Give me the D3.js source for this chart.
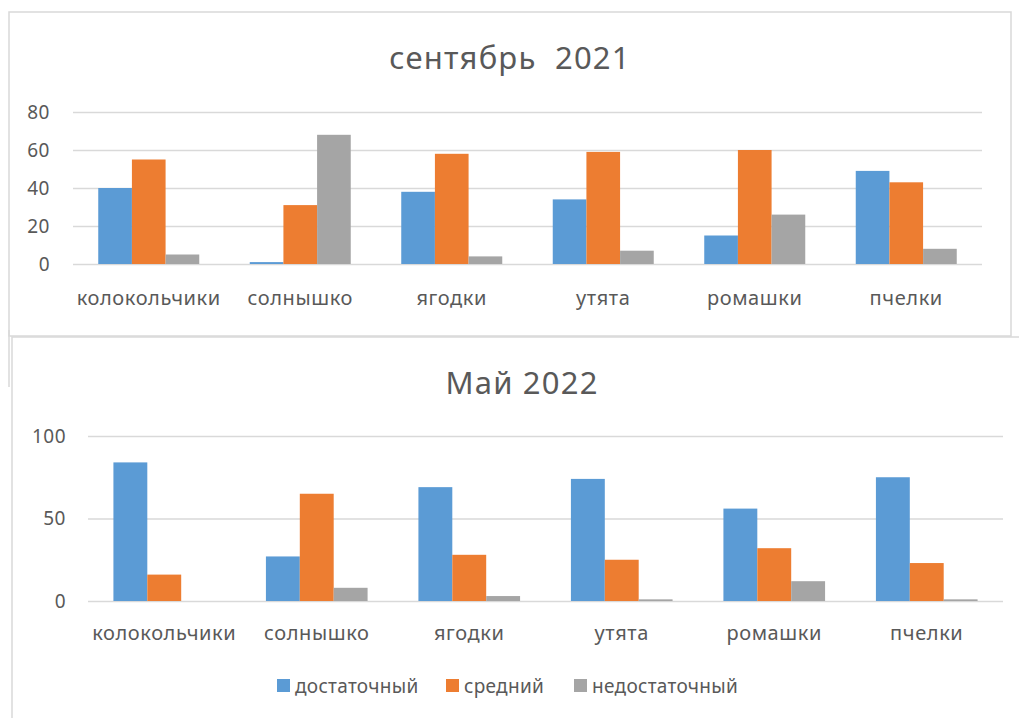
<!DOCTYPE html>
<html>
<head>
<meta charset="utf-8">
<script src="https://cdn.jsdelivr.net/npm/d3@7"></script>
<style>
  body { margin: 0; background: #fff; }
  text { font-family: "Noto Sans", sans-serif; fill: #595959; }
</style>
</head>
<body>
<script>
// groups and series
var groups = ["колокольчики", "солнышко", "ягодки", "утята", "ромашки", "пчелки"];
var seriesNames = ["достаточный", "средний", "недостаточный"];
var seriesColors = ["#5b9bd5", "#ed7d31", "#a5a5a5"];

// сентябрь 2021
var sepGood = [40, 1, 38, 34, 15, 49];
var sepMid = [55, 31, 58, 59, 60, 43];
var sepLow = [5, 68, 4, 7, 26, 8];
var sepTicks = [0, 20, 40, 60, 80];

// Май 2022
var mayGood = [84, 27, 69, 74, 56, 75];
var mayMid = [16, 65, 28, 25, 32, 23];
var mayLow = [0, 8, 3, 1, 12, 1];
var mayTicks = [0, 50, 100];

var w = 1019, h = 718;
var svg = d3.select("body").append("svg")
    .attr("width", w)
    .attr("height", h);

//draws one grouped bar chart
function drawChart(opt){
    var g = svg.append("g").attr("class", "chart");

    //frame
    g.append("rect")
        .attr("x", opt.box[0]).attr("y", opt.box[1])
        .attr("width", opt.box[2]).attr("height", opt.box[3])
        .style("fill", "#fff")
        .style("stroke", "#d9d9d9")
        .style("stroke-width", 1.5);

    g.append("text")
        .attr("x", opt.titleX).attr("y", opt.titleY)
        .attr("text-anchor", "middle")
        .style("font-size", "31px")
        .style("letter-spacing", "1.2px")
        .style("white-space", "pre") //keep the double space
        .text(opt.title);

    var x0 = d3.scaleBand()
        .domain(groups)
        .range([opt.left, opt.right])
        .paddingInner(1/3)
        .paddingOuter(1/6);
    var x1 = d3.scaleBand()
        .domain(d3.range(seriesNames.length))
        .range([0, x0.bandwidth()]);
    var y = d3.scaleLinear()
        .domain([0, d3.max(opt.ticks)])
        .range([opt.bottom, opt.top]);

    //gridlines
    var yAxis = d3.axisLeft(y)
        .tickValues(opt.ticks)
        .tickSize(-(opt.right - opt.left))
        .tickPadding(opt.left - opt.tickX);
    var ax = g.append("g")
        .attr("class", "axis")
        .attr("transform", "translate(" + opt.left + ",0)")
        .call(yAxis);
    ax.select(".domain").remove();
    ax.selectAll("line").style("stroke", "#d9d9d9").style("stroke-width", 1.5);
    ax.selectAll("text")
        .style("font-size", "19px")
        .style("letter-spacing", "0.5px")
        .style("font-family", "Noto Sans, sans-serif")
        .style("fill", "#595959");

    var rows = groups.map(function(name, i){
        return opt.values.map(function(s){ return s[i]; });
    });

    var grp = g.selectAll(".grp")
        .data(rows)
        .enter()
        .append("g")
        .attr("class", "grp")
        .attr("transform", function(d, i){
            return "translate(" + x0(groups[i]) + ",0)";
        });
    grp.selectAll("rect")
        .data(function(d){ return d; })
        .enter()
        .append("rect")
        .attr("x", function(d, i){ return x1(i); })
        .attr("width", x1.bandwidth())
        .attr("y", function(d){ return y(d); })
        .attr("height", function(d){ return y(0) - y(d); })
        .style("fill", function(d, i){ return seriesColors[i]; });

    //category labels
    g.selectAll(".cat")
        .data(groups)
        .enter()
        .append("text")
        .attr("class", "cat")
        .attr("x", function(d){ return x0(d) + x0.bandwidth() / 2; })
        .attr("y", opt.catY)
        .attr("text-anchor", "middle")
        .style("font-size", "20px")
        .style("letter-spacing", "0.6px")
        .text(function(d){ return d; });
}

drawChart({
    box: [9, 12, 1002, 324],
    title: "сентябрь  2021", titleX: 510, titleY: 69,
    left: 73, right: 982, top: 112, bottom: 264, tickX: 50,
    ticks: sepTicks,
    values: [sepGood, sepMid, sepLow],
    catY: 305
});

//left edge of the first frame showing below the second one
svg.append("line")
    .attr("x1", 9).attr("x2", 9)
    .attr("y1", 330).attr("y2", 387)
    .style("stroke", "#d9d9d9").style("stroke-width", 1.5);

drawChart({
    box: [12, 337, 1030, 420],
    title: "Май 2022", titleX: 522, titleY: 394,
    left: 88, right: 1003, top: 436, bottom: 601, tickX: 66,
    ticks: mayTicks,
    values: [mayGood, mayMid, mayLow],
    catY: 640
});

//legend
var legX = [277, 446, 574];
var legend = svg.selectAll(".legend")
    .data(seriesNames)
    .enter()
    .append("g")
    .attr("class", "legend")
    .attr("transform", function(d, i){ return "translate(" + legX[i] + ",679)"; });
legend.append("rect")
    .attr("width", 13).attr("height", 13)
    .style("fill", function(d, i){ return seriesColors[i]; });
legend.append("text")
    .attr("x", 18).attr("y", 14)
    .style("font-size", "19px")
    .style("letter-spacing", "0.3px")
    .text(function(d){ return d; });
</script>
</body>
</html>
